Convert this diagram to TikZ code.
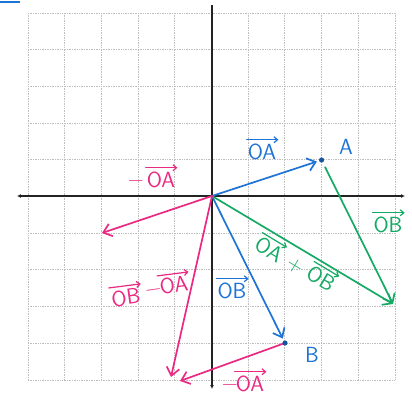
\documentclass[tikz,border=0pt]{standalone}
\usepackage{fontspec}
\usetikzlibrary{arrows.meta}
\definecolor{vblue}{RGB}{30,115,215}
\definecolor{vpink}{RGB}{235,40,130}
\definecolor{vgreen}{RGB}{20,170,100}
\definecolor{axisc}{RGB}{35,35,35}
\definecolor{gridc}{RGB}{190,190,190}
\begin{document}
\begin{tikzpicture}[x=1bp,y=-1bp,
  vec/.style={line width=1.7pt,line cap=round,-{Straight Barb[length=8pt,width=13pt,line width=1.7pt]}},
  axisline/.style={axisc,line width=2pt},
  lab/.style={font=\sffamily\fontsize{22}{24}\selectfont,inner sep=0pt,anchor=base},
  ovarrow/.style={line width=1.2pt,line cap=round,-{Straight Barb[length=3.5pt,width=6pt,line width=1.2pt]}},
  gridline/.style={gridc,line width=0.9pt,dash pattern=on 1pt off 0.7pt}]
\useasboundingbox (0,0) rectangle (412,396);
\fill[white] (0,0) rectangle (412,396);
% grid
\foreach \i in {0,...,10} {
  \draw[gridline] ({28+36.7*\i},13) -- ({28+36.7*\i},380);
  \draw[gridline] (28,{13+36.7*\i}) -- (395,{13+36.7*\i});
}
% small blue mark at top left
\coordinate (m1) at (0,2);
\coordinate (m2) at (20,2);
\draw[vblue,line width=2pt] (m1) -- (m2);
% axes
\coordinate (O) at (212,196);
\coordinate (xl) at (17,196);
\coordinate (xr) at (405,196);
\coordinate (yt) at (212,5);
\coordinate (yb) at (212,389);
\draw[axisline,{Latex[length=4pt,width=4pt]}-{Latex[length=4pt,width=4pt]}] (xl) -- (xr);
\draw[axisline,-{Latex[length=4pt,width=4pt]}] (yt) -- (yb);
% points
\coordinate (A) at (321.6,160);
\coordinate (B) at (285,343);
\coordinate (S) at (393,304);
\coordinate (mA) at (102,233);
\coordinate (D1) at (171,377);
\coordinate (D2) at (180,381);
% vectors
\draw[vec,vblue,shorten >=5pt] (O) -- (A);
\draw[vec,vblue,shorten >=5pt] (O) -- (B);
\draw[vec,vgreen] (O) -- (S);
\draw[vec,vgreen,shorten <=8pt] (A) -- (S);
\draw[vec,vpink] (O) -- (mA);
\draw[vec,vpink] (O) -- (D1);
\draw[vec,vpink,shorten <=2pt] (B) -- (D2);
\fill[vblue!75!black] (A) circle (2.6);
\fill[vblue!75!black] (B) circle (2.6);
% point labels
\node[lab,vblue] (lA) at (346,154) {A};
\node[lab,vblue] (lB) at (312,362) {B};
% vector OA (blue)
\node[lab,vblue] (lOA) at (262,159) {OA};
\draw[ovarrow,vblue] ([xshift=-1pt,yshift=3.5pt]lOA.north west) -- ([xshift=2pt,yshift=3.5pt]lOA.north east);
% -OA (pink, top left)
\node[lab,vpink] (lmOAm) at (136,186) {−};
\node[lab,vpink] (lmOA) at (161,187) {OA};
\draw[ovarrow,vpink] ([xshift=-1pt,yshift=3.5pt]lmOA.north west) -- ([xshift=2pt,yshift=3.5pt]lmOA.north east);
% OB (green, right)
\node[lab,vgreen] (lOB2) at (388,232) {OB};
\draw[ovarrow,vgreen] ([xshift=-1pt,yshift=3.5pt]lOB2.north west) -- ([xshift=2pt,yshift=3.5pt]lOB2.north east);
% OA + OB (green, sloped)
\begin{scope}[every node/.append style={rotate=-31}]
\node[lab,vgreen] (lsA) at (265,256) {OA};
\node[lab,vgreen] (lsp) at (292,271) {+};
\node[lab,vgreen] (lsB) at (317,285) {OB};
\end{scope}
\draw[ovarrow,vgreen] ([xshift=1.5pt,yshift=2.5pt]lsA.north west) -- ([xshift=1.5pt,yshift=2.5pt]lsA.north east);
\draw[ovarrow,vgreen] ([xshift=1.5pt,yshift=2.5pt]lsB.north west) -- ([xshift=1.5pt,yshift=2.5pt]lsB.north east);
% OB (blue)
\node[lab,vblue] (lOB) at (232,298) {OB};
\draw[ovarrow,vblue] ([xshift=-1pt,yshift=3.5pt]lOB.north west) -- ([xshift=2pt,yshift=3.5pt]lOB.north east);
% OB - OA (pink)
\begin{scope}[every node/.append style={rotate=8}]
\node[lab,vpink] (ldB) at (127,305) {OB};
\node[lab,vpink] (ldm) at (154,295) {−};
\node[lab,vpink] (ldA) at (175,293) {OA};
\end{scope}
\draw[ovarrow,vpink] ([xshift=-1.5pt,yshift=3.5pt]ldB.north west) -- ([xshift=1.5pt,yshift=3.5pt]ldB.north east);
\draw[ovarrow,vpink] ([xshift=-1.5pt,yshift=3.5pt]ldA.north west) -- ([xshift=1.5pt,yshift=3.5pt]ldA.north east);
% -OA (pink, bottom)
\node[lab,vpink] (lbm) at (230,390) {−};
\node[lab,vpink] (lbA) at (250,391) {OA};
\draw[ovarrow,vpink] ([xshift=-1pt,yshift=3.5pt]lbA.north west) -- ([xshift=2pt,yshift=3.5pt]lbA.north east);
\end{tikzpicture}
\end{document}
